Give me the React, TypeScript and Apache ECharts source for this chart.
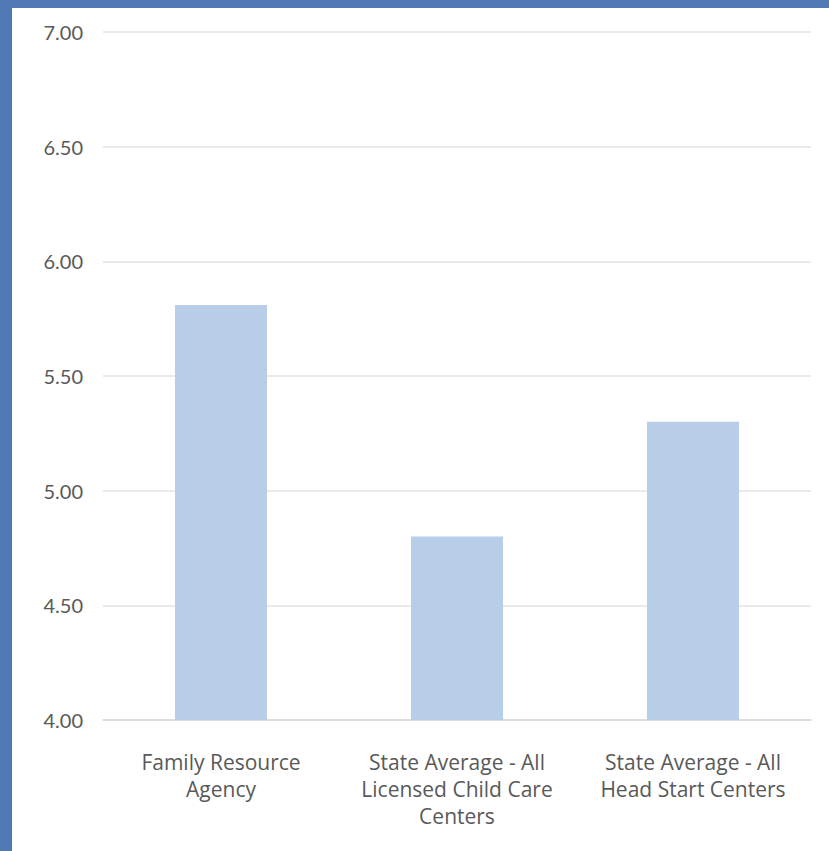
import React, { useEffect, useRef } from "react";
import * as echarts from "echarts";

const categories = [
  "Family Resource\nAgency",
  "State Average - All\nLicensed Child Care\nCenters",
  "State Average - All\nHead Start Centers",
];
const values = [5.81, 4.8, 5.3];
const yMin = 4.0;
const yMax = 7.0;
const yInterval = 0.5;

export default function App() {
  const ref = useRef<HTMLDivElement>(null);
  useEffect(() => {
    if (!ref.current) return;
    const chart = echarts.init(ref.current, null, { renderer: "svg" });
    chart.setOption({
      animation: false,
      backgroundColor: "#4f78b5",
      graphic: [
        {
          type: "rect",
          z: -10,
          shape: { x: 12, y: 8, width: 829, height: 851 },
          style: { fill: "#ffffff" },
          silent: true,
        },
      ],
      grid: { left: 103, right: 18, top: 32, bottom: 131, containLabel: false },
      xAxis: {
        type: "category",
        data: categories,
        axisLine: { show: true, lineStyle: { color: "#d9d9d9", width: 1.5 } },
        axisTick: { show: false },
        axisLabel: {
          color: "#595959",
          fontFamily: "Open Sans",
          fontSize: 21,
          lineHeight: 27,
          margin: 28,
          interval: 0,
        },
      },
      yAxis: {
        type: "value",
        min: yMin,
        max: yMax,
        interval: yInterval,
        axisLine: { show: false },
        axisTick: { show: false },
        splitLine: { lineStyle: { color: "#e3e3e3", width: 1.5 } },
        axisLabel: {
          color: "#595959",
          fontFamily: "Lato",
          fontSize: 20,
          margin: 20,
          formatter: (v: number) => v.toFixed(2),
        },
      },
      series: [
        {
          type: "bar",
          data: values,
          barWidth: "39%",
          itemStyle: { color: "#b8cde7" },
        },
      ],
    });
    return () => chart.dispose();
  }, []);
  return (
    <div
      ref={ref}
      style={{ position: "absolute", left: 0, top: 0, width: 829, height: 851 }}
    />
  );
}
